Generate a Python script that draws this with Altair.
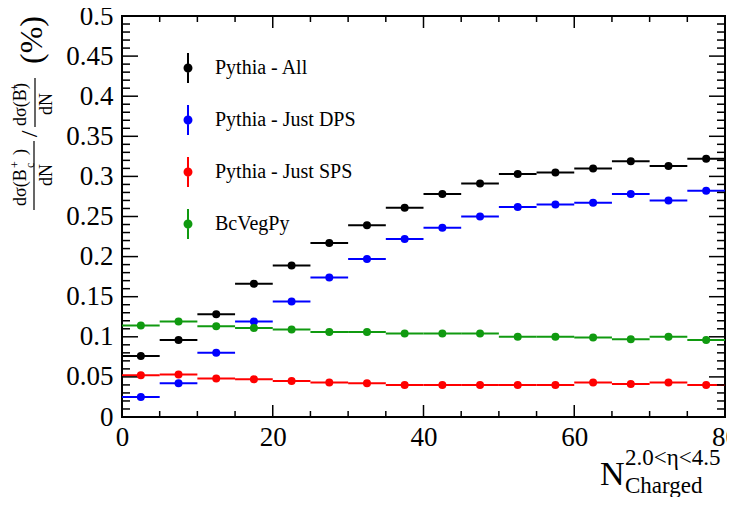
import altair as alt
import pandas as pd

SERIF = "Liberation Serif"

# ---------------- data ----------------
x_centers = [2.5, 7.5, 12.5, 17.5, 22.5, 27.5, 32.5, 37.5,
             42.5, 47.5, 52.5, 57.5, 62.5, 67.5, 72.5, 77.5]
bin_half_width = 2.5

series_names = ["Pythia - All", "Pythia - Just DPS", "Pythia - Just SPS", "BcVegPy"]
series_colors = ["#000000", "#0000ff", "#ff0000", "#109a10"]

pythia_all = [0.076, 0.096, 0.128, 0.166, 0.189, 0.217, 0.239, 0.261,
              0.278, 0.291, 0.303, 0.305, 0.310, 0.319, 0.313, 0.322]
pythia_dps = [0.025, 0.042, 0.080, 0.119, 0.144, 0.174, 0.197, 0.222,
              0.236, 0.250, 0.262, 0.265, 0.267, 0.278, 0.270, 0.282]
pythia_sps = [0.052, 0.053, 0.048, 0.047, 0.045, 0.043, 0.042, 0.040,
              0.040, 0.040, 0.040, 0.040, 0.043, 0.041, 0.043, 0.040]
bcvegpy = [0.114, 0.119, 0.113, 0.111, 0.109, 0.106, 0.106, 0.104,
           0.104, 0.104, 0.100, 0.100, 0.099, 0.097, 0.100, 0.096]

x_major_ticks = [0, 20, 40, 60, 80]
x_minor_ticks = [5, 10, 15, 25, 30, 35, 45, 50, 55, 65, 70, 75]
y_major_ticks = [0, 0.05, 0.1, 0.15, 0.2, 0.25, 0.3, 0.35, 0.4, 0.45, 0.5]
y_minor_ticks = [round(i / 100, 2) for i in range(1, 50) if i % 5 != 0]

# ---------------- table ----------------
rows = []
for name, col, vals in zip(series_names, series_colors,
                           [pythia_all, pythia_dps, pythia_sps, bcvegpy]):
    for xc, v in zip(x_centers, vals):
        rows.append({"series": name, "hex": col, "x": xc,
                     "xlo": xc - bin_half_width, "xhi": xc + bin_half_width, "y": v})
df = pd.DataFrame(rows)

PW, PH = 603, 401
xs = alt.Scale(domain=[0, 80], nice=False, zero=False)
ys = alt.Scale(domain=[0, 0.5], nice=False, zero=False)

common_axis = dict(title=None, ticks=False, domain=False, grid=False,
                   labelFont=SERIF, labelFontSize=27, labelColor="black",
                   labelFontWeight="normal", labelFlush=False, labelOverlap=False)
x_axis = alt.Axis(values=x_major_ticks, format="d", labelPadding=7, **common_axis)
y_axis = alt.Axis(values=y_major_ticks, format=".2~f", labelPadding=9, **common_axis)

legend_symbol = ("M-0.067,-1L0.067,-1L0.067,1L-0.067,1Z "
                 "M0.3,0A0.3,0.3 0 1,1 -0.3,0A0.3,0.3 0 1,1 0.3,0Z")

hbars = alt.Chart(df).mark_rule(strokeWidth=2).encode(
    x=alt.X("xlo:Q", scale=xs, axis=x_axis),
    x2="xhi:Q",
    y=alt.Y("y:Q", scale=ys, axis=y_axis),
    color=alt.Color("hex:N", scale=None),
)

points = alt.Chart(df).mark_point(filled=True, size=64, opacity=1).encode(
    x=alt.X("x:Q", scale=xs, axis=x_axis),
    y=alt.Y("y:Q", scale=ys, axis=y_axis),
    color=alt.Color(
        "series:N",
        scale=alt.Scale(domain=series_names, range=series_colors),
        legend=alt.Legend(
            title=None, orient="none", legendX=51, legendY=37, padding=0,
            labelFont=SERIF, labelFontSize=20, labelColor="black",
            labelOffset=12, labelLimit=300, rowPadding=22,
            symbolType=legend_symbol, symbolSize=900, symbolStrokeWidth=0,
            symbolOpacity=1,
        ),
    ),
)


def tick_layer(values, channel, scale, p1, p2):
    d = pd.DataFrame({"v": values})
    if channel == "x":
        enc = dict(x=alt.X("v:Q", scale=scale, axis=x_axis),
                   y=alt.value(p1), y2=alt.value(p2))
    else:
        enc = dict(y=alt.Y("v:Q", scale=scale, axis=y_axis),
                   x=alt.value(p1), x2=alt.value(p2))
    return alt.Chart(d).mark_rule(strokeWidth=1.5, color="black").encode(**enc)


XMAJ, XMIN, YMAJ, YMIN = 12, 6, 16, 8
ticks = [
    tick_layer(x_major_ticks, "x", xs, PH, PH - XMAJ),
    tick_layer(x_minor_ticks, "x", xs, PH, PH - XMIN),
    tick_layer(x_major_ticks, "x", xs, 0, XMAJ),
    tick_layer(x_minor_ticks, "x", xs, 0, XMIN),
    tick_layer(y_major_ticks, "y", ys, 0, YMAJ),
    tick_layer(y_minor_ticks, "y", ys, 0, YMIN),
    tick_layer(y_major_ticks, "y", ys, PW, PW - YMAJ),
    tick_layer(y_minor_ticks, "y", ys, PW, PW - YMIN),
]


def txt(s, x, y, size, angle=0, align="center", baseline="middle"):
    return alt.Chart(pd.DataFrame({"t": [s]})).mark_text(
        text=s, font=SERIF, fontSize=size, angle=angle, align=align,
        baseline=baseline, color="black",
    ).encode(x=alt.value(x), y=alt.value(y))


def vline(x, y1, y2):
    return alt.Chart(pd.DataFrame({"t": [0]})).mark_rule(
        color="black", strokeWidth=1.2
    ).encode(x=alt.value(x), y=alt.value(y1), y2=alt.value(y2))


# y-axis title: dσ(B_c^+)/dN / dσ(B^+)/dN (%)  (rotated, reads bottom to top)
ytitle = [
    # first fraction
    txt("dσ(B", -101, 190, 18, angle=270, align="left"),
    txt("c", -92, 152, 12, angle=270, align="left"),
    txt("+", -107, 152, 12, angle=270, align="left"),
    txt(")", -101, 139, 18, angle=270, align="left"),
    vline(-88, 194, 125),
    txt("dN", -75, 159, 18, angle=270, align="center"),
    # slash
    txt("/", -92, 118, 24, angle=270, align="center"),
    # second fraction
    txt("dσ(B", -101, 110, 18, angle=270, align="left"),
    txt("+", -107, 75, 12, angle=270, align="left"),
    txt(")", -101, 73, 18, angle=270, align="left"),
    vline(-87, 111, 62),
    txt("dN", -75, 88, 18, angle=270, align="center"),
    # unit
    txt("(%)", -90, 24, 32, angle=270, align="center"),
]

# x-axis title: N_Charged^{2.0<η<4.5}
xtitle = [
    txt("N", 478, 469, 34, align="left", baseline="alphabetic"),
    txt("2.0<η<4.5", 503, 449, 23, align="left", baseline="alphabetic"),
    txt("Charged", 503, 477, 23, align="left", baseline="alphabetic"),
]

chart = alt.layer(hbars, *ticks, points, *ytitle, *xtitle).properties(
    width=PW, height=PH,
    autosize=alt.AutoSizeParams(type="none"),
    padding={"left": 114, "top": 8, "right": 2, "bottom": 80},
).configure_view(stroke="black", strokeWidth=2)

chart.save("out.html", embed_options={"renderer": "svg", "actions": False})
